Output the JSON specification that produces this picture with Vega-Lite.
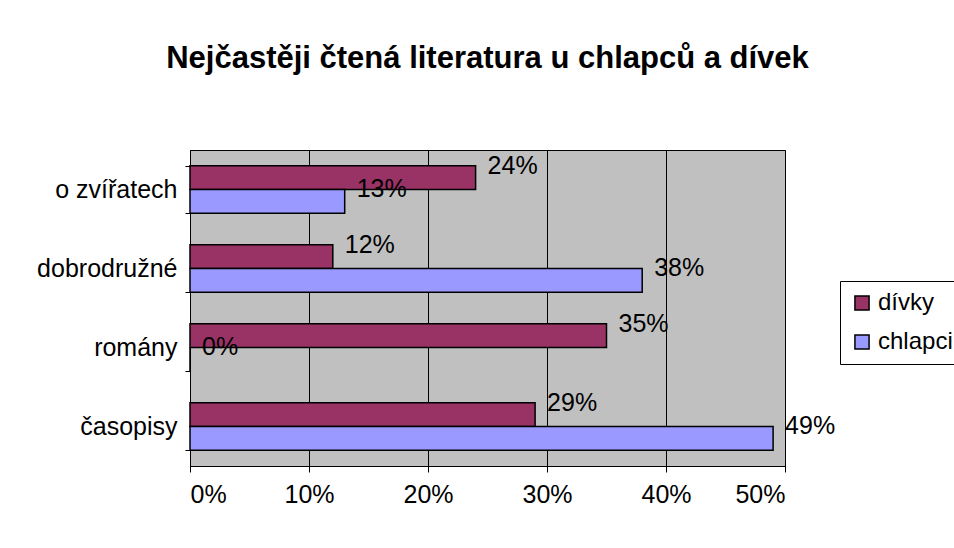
{
  "$schema": "https://vega.github.io/schema/vega-lite/v6.json",
  "autosize": {"type": "none"},
  "width": 595,
  "height": 316,
  "padding": {"left": 190, "top": 150, "right": 169, "bottom": 82},
  "background": "white",
  "config": {
    "font": "Liberation Sans",
    "view": {"fill": "#c0c0c0", "stroke": "#000000", "strokeWidth": 1}
  },
  "title": {
    "text": "Nejčastěji čtená literatura u chlapců a dívek",
    "fontSize": 31,
    "fontWeight": "bold",
    "font": "Liberation Sans",
    "color": "#000000",
    "anchor": "middle",
    "offset": 63
  },
  "data": {
    "values": [
      {"kategorie": "o zvířatech", "skupina": "dívky", "podil": 0.24},
      {"kategorie": "o zvířatech", "skupina": "chlapci", "podil": 0.13},
      {"kategorie": "dobrodružné", "skupina": "dívky", "podil": 0.12},
      {"kategorie": "dobrodružné", "skupina": "chlapci", "podil": 0.38},
      {"kategorie": "romány", "skupina": "dívky", "podil": 0.35},
      {"kategorie": "romány", "skupina": "chlapci", "podil": 0.0},
      {"kategorie": "časopisy", "skupina": "dívky", "podil": 0.29},
      {"kategorie": "časopisy", "skupina": "chlapci", "podil": 0.49}
    ]
  },
  "encoding": {
    "y": {
      "field": "kategorie",
      "type": "nominal",
      "sort": ["o zvířatech", "dobrodružné", "romány", "časopisy"],
      "scale": {"paddingInner": 0.4, "paddingOuter": 0.2},
      "axis": {
        "title": null,
        "labelFontSize": 25,
        "labelColor": "#000000",
        "labelPadding": 8,
        "domainColor": "#000000",
        "tickColor": "#000000",
        "tickSize": 5,
        "tickBand": "extent",
        "grid": false
      }
    },
    "yOffset": {
      "field": "skupina",
      "type": "nominal",
      "sort": ["dívky", "chlapci"]
    },
    "x": {
      "field": "podil",
      "type": "quantitative",
      "scale": {"domain": [0, 0.5], "nice": false},
      "axis": {
        "title": null,
        "format": ".0%",
        "values": [0, 0.1, 0.2, 0.3, 0.4, 0.5],
        "labelFontSize": 25,
        "labelColor": "#000000",
        "labelPadding": 10,
        "domainColor": "#000000",
        "tickColor": "#000000",
        "tickSize": 6,
        "grid": true,
        "gridColor": "#000000",
        "gridWidth": 1
      }
    }
  },
  "layer": [
    {
      "mark": {"type": "bar", "stroke": "#000000", "strokeWidth": 1.5},
      "encoding": {
        "color": {
          "field": "skupina",
          "type": "nominal",
          "sort": ["dívky", "chlapci"],
          "scale": {"domain": ["dívky", "chlapci"], "range": ["#993366", "#9999ff"]},
          "legend": {
            "title": null,
            "orient": "none",
            "legendX": 650,
            "legendY": 131,
            "symbolType": "square",
            "symbolSize": 200,
            "symbolStrokeColor": "#000000",
            "symbolStrokeWidth": 1.5,
            "labelFontSize": 24,
            "labelColor": "#000000",
            "labelOffset": 4,
            "rowPadding": 15,
            "padding": 10,
            "strokeColor": "#000000",
            "fillColor": "#ffffff"
          }
        }
      }
    },
    {
      "mark": {"type": "text", "align": "left", "baseline": "middle", "dx": 12, "dy": -12, "fontSize": 25, "color": "#000000"},
      "encoding": {
        "text": {"field": "podil", "type": "quantitative", "format": ".0%"}
      }
    }
  ]
}
